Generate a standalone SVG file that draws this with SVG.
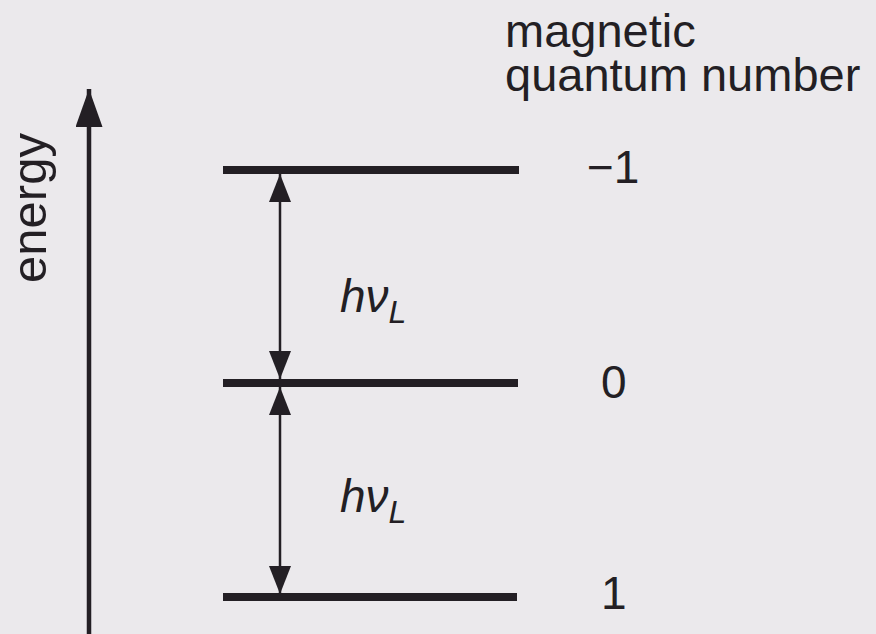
<svg xmlns="http://www.w3.org/2000/svg" width="876" height="634" viewBox="0 0 876 634">
<style>
.ink{stroke:#231f24;fill:none}
.lvl{stroke:#231f24;stroke-width:8}
.txt{font-family:"Liberation Sans",Arial,sans-serif;fill:#231f24}
.it{font-family:"Liberation Sans",Arial,sans-serif;font-style:italic;fill:#231f24}
</style>
<defs>
<marker id="head" markerUnits="userSpaceOnUse" markerWidth="28" markerHeight="22" refX="28" refY="11" orient="auto-start-reverse">
<path d="M0,0 L28,11 L0,22 z" fill="#231f24"/>
</marker>
<marker id="bighead" markerUnits="userSpaceOnUse" markerWidth="38" markerHeight="27" refX="38" refY="13.5" orient="auto">
<path d="M0,0 L38,13.5 L0,27 z" fill="#231f24"/>
</marker>
</defs>
<rect x="0" y="0" width="876" height="634" fill="#ebe9ec"/>
<g id="axis">
<line class="ink" x1="89" y1="640" x2="89" y2="89" stroke-width="4.5" marker-end="url(#bighead)"/>
<text class="txt" font-size="49" text-anchor="middle" transform="translate(46,208) rotate(-90)">energy</text>
</g>
<g id="title">
<text class="txt" font-size="47" x="505" y="47">magnetic<tspan x="505" y="91">quantum number</tspan></text>
</g>
<g id="level-m1">
<line class="lvl" x1="223" y1="170" x2="519" y2="170"/>
<text class="txt" font-size="46" x="587" y="183">−1</text>
</g>
<g id="level-0">
<line class="lvl" x1="223" y1="383" x2="518" y2="383"/>
<text class="txt" font-size="46" x="601" y="398">0</text>
</g>
<g id="level-1">
<line class="lvl" x1="223" y1="597" x2="517" y2="597"/>
<text class="txt" font-size="46" x="601" y="609">1</text>
</g>
<g id="connectors">
<line class="ink" x1="280" y1="174" x2="280" y2="379" stroke-width="2.5" marker-start="url(#head)" marker-end="url(#head)"/>
<line class="ink" x1="280" y1="387" x2="280" y2="594" stroke-width="2.5" marker-start="url(#head)" marker-end="url(#head)"/>
</g>
<g id="label-upper">
<text class="it" font-size="46" x="340" y="312">hν<tspan font-size="32" dy="11">L</tspan></text>
</g>
<g id="label-lower">
<text class="it" font-size="46" x="340" y="512">hν<tspan font-size="32" dy="11">L</tspan></text>
</g>
</svg>
